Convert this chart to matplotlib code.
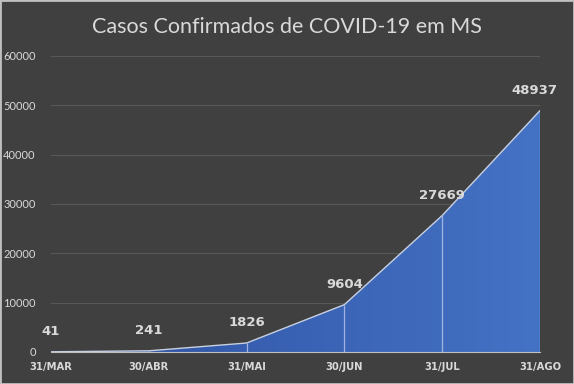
import matplotlib
matplotlib.use("Agg")
import matplotlib.pyplot as plt
import numpy as np
from matplotlib.patches import Rectangle
from matplotlib.colors import LinearSegmentedColormap

categories = ["31/MAR", "30/ABR", "31/MAI", "30/JUN", "31/JUL", "31/AGO"]
values = [41, 241, 1826, 9604, 27669, 48937]
yticks = [0, 10000, 20000, 30000, 40000, 50000, 60000]

bg = "#404040"
txt = "#d9d9d9"
plt.rcParams["font.family"] = ["Lato", "DejaVu Sans"]
bold_family = ["DejaVu Sans"]

fig = plt.figure(figsize=(5.74, 3.84), dpi=100, facecolor=bg)
ax = fig.add_axes([51/574, 32/384, 489/574, 296/384])
ax.set_facecolor(bg)

x = np.arange(len(categories))
ax.set_xlim(0, len(categories) - 1)
ax.set_ylim(0, 60000)

# gradient fill
poly = ax.fill_between(x, values, 0, color="none", zorder=2)
cmap = LinearSegmentedColormap.from_list("g", ["#2c4f9c", "#3a62b4", "#4472c4"])
grad = np.linspace(0, 1, 256).reshape(1, -1)
im = ax.imshow(grad, extent=[0, len(categories) - 1, 0, 60000], aspect="auto",
               cmap=cmap, zorder=2, origin="lower")
im.set_clip_path(poly.get_paths()[0], transform=ax.transData)

ax.plot(x, values, color="#c8d0e0", lw=1.0, zorder=3)
ax.vlines(x, 0, values, color="#9fb4e0", lw=0.9, zorder=3)

ax.set_yticks(yticks)
ax.yaxis.grid(True, color="#585858", lw=0.8)
ax.set_axisbelow(True)
for s in ["top", "right", "left"]:
    ax.spines[s].set_visible(False)
ax.spines["bottom"].set_color("#bfbfbf")
ax.spines["bottom"].set_zorder(4)
ax.tick_params(axis="y", length=0, pad=11, labelsize=8, labelcolor=txt)
ax.set_xticks(x)
ax.set_xticklabels(categories, fontsize=7.2, color=txt, fontweight="bold", family=bold_family)
ax.tick_params(axis="x", length=0, pad=7)

for i, v in enumerate(values):
    dx = -4 if i == len(values) - 1 else 0
    ax.annotate(str(v), (i, v), xytext=(dx, 10), textcoords="offset points",
                ha="center", va="bottom", fontsize=9.5, fontweight="bold", color=txt,
                family=bold_family)

fig.text(287/574, 1 - 27/384, "Casos Confirmados de COVID-19 em MS", ha="center", va="center",
         fontsize=15.5, color=txt)

fig.patches.append(Rectangle((0, 0), 1, 1, transform=fig.transFigure, fill=False,
                             edgecolor="#c0c0c0", lw=2))

fig.savefig("out.png", dpi=100, facecolor=bg)
